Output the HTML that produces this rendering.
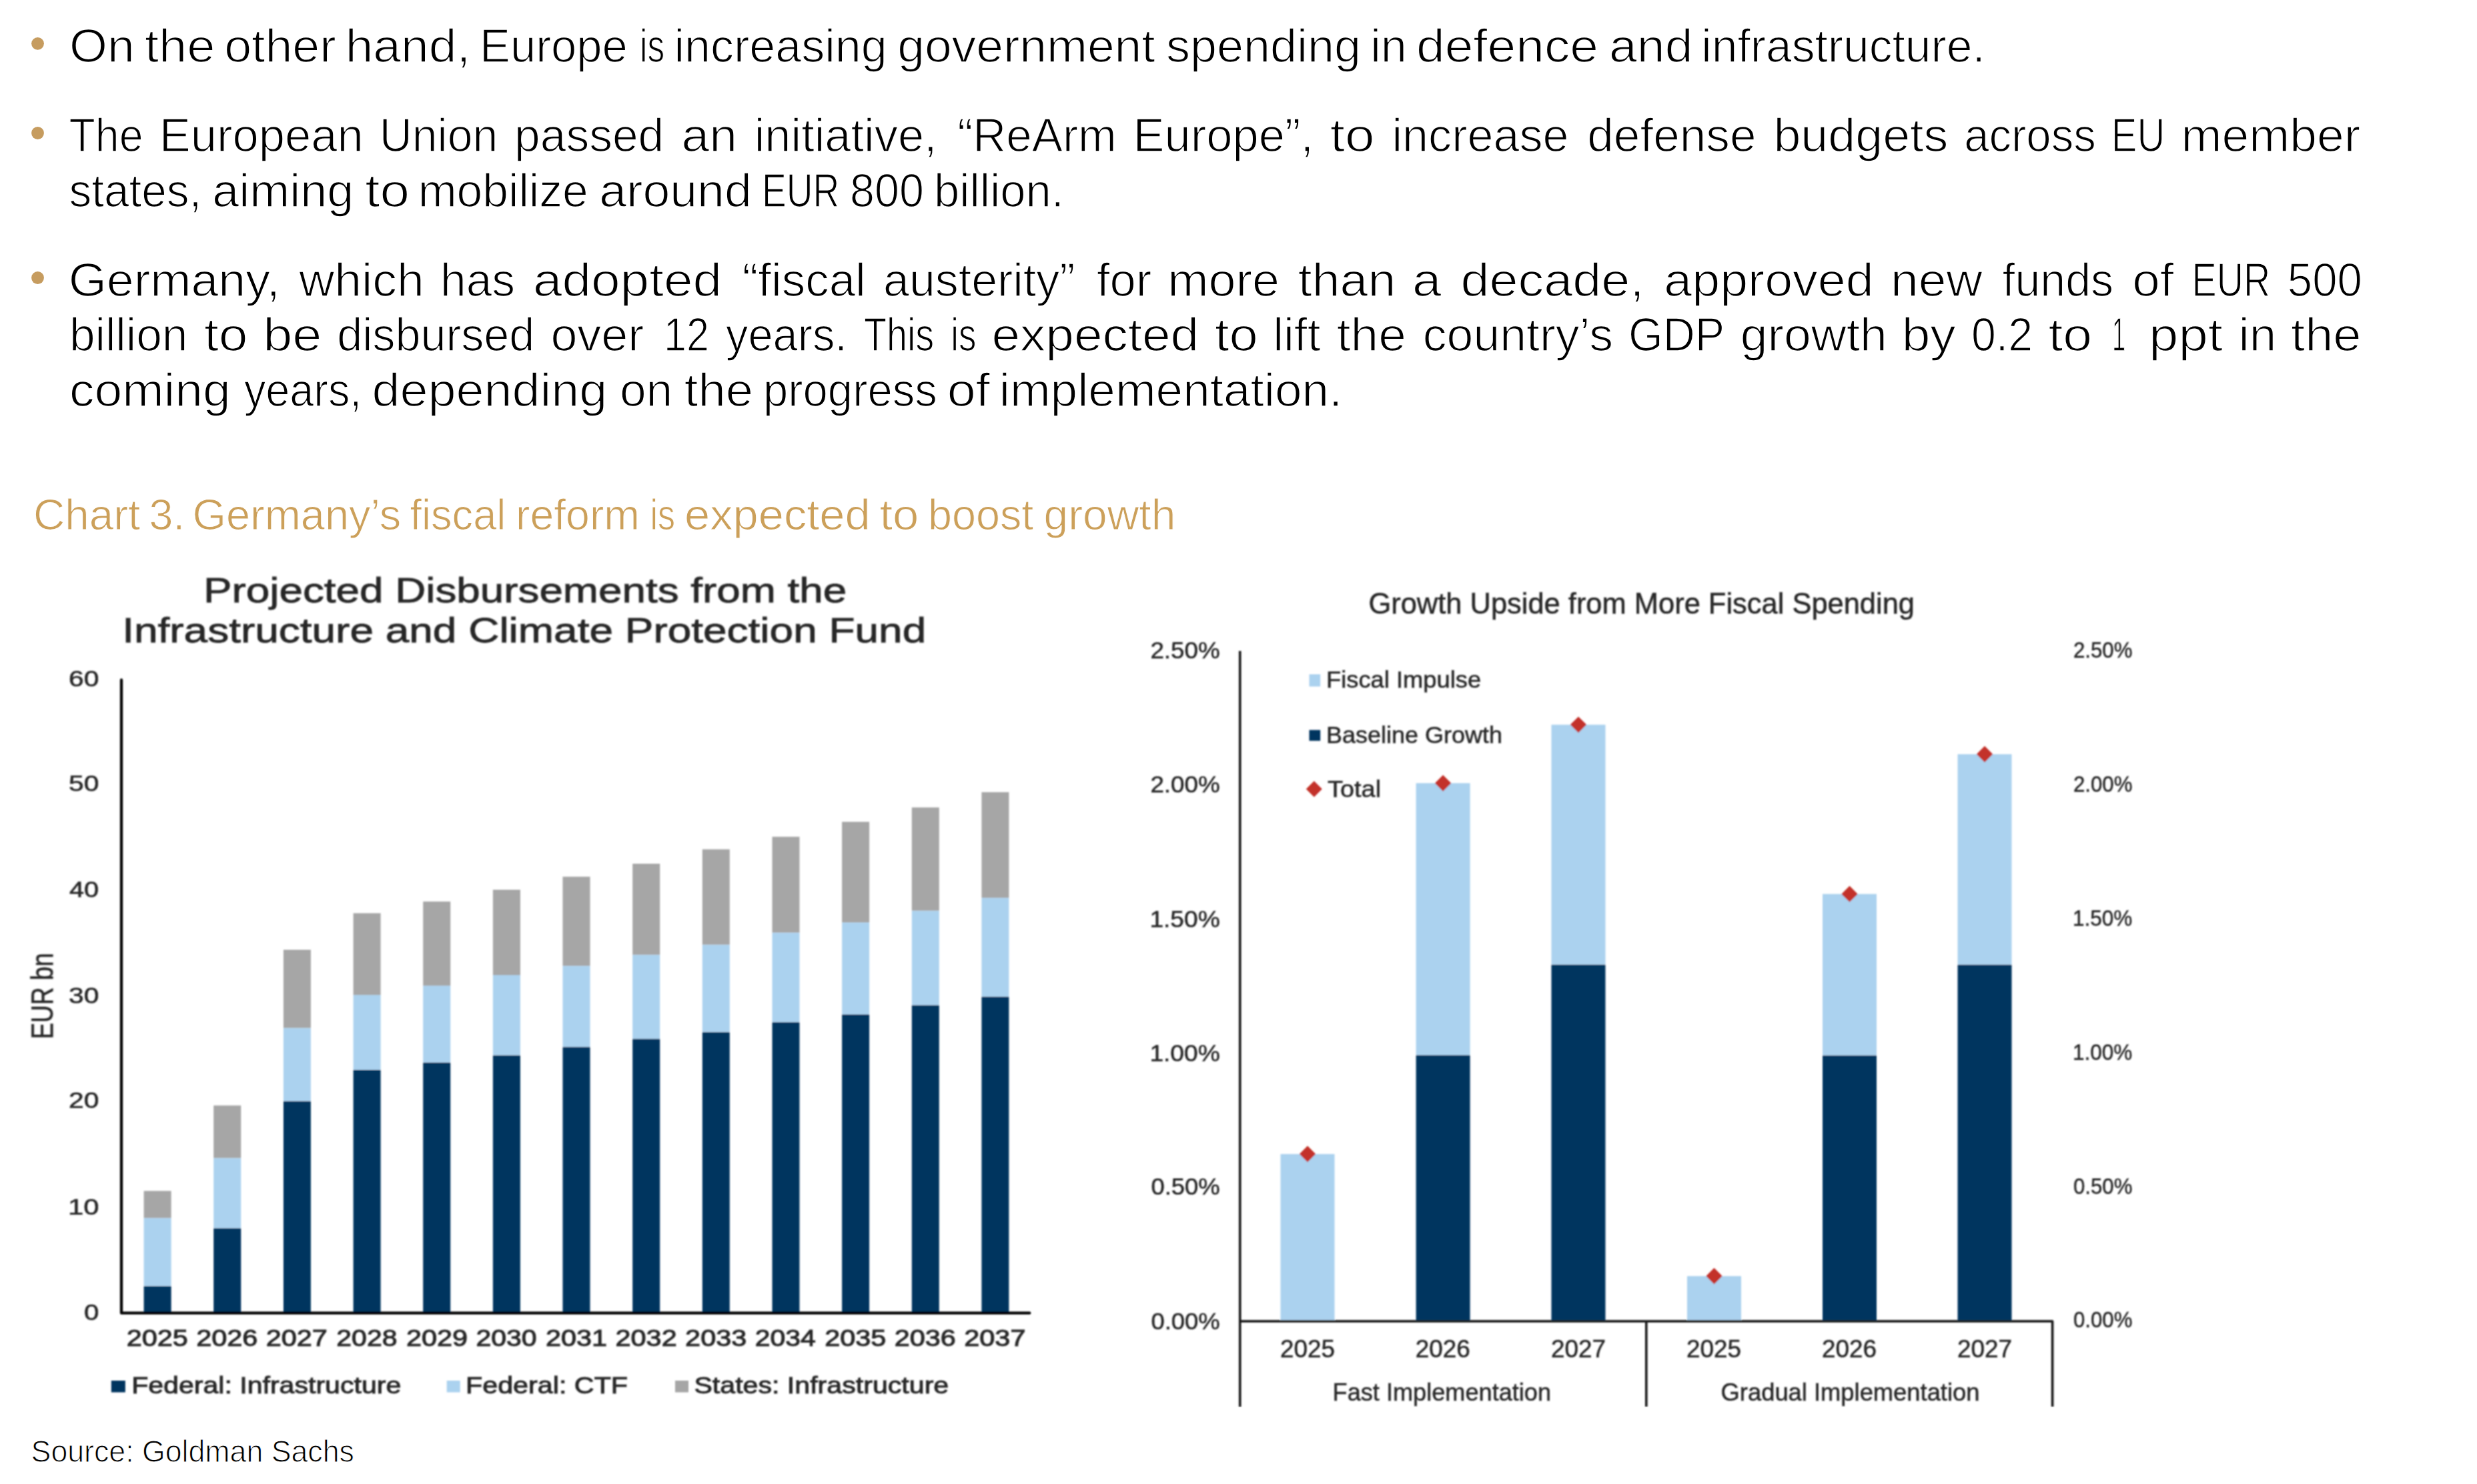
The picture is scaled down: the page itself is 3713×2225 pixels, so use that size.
<!DOCTYPE html>
<html><head><meta charset="utf-8"><title>Chart 3</title>
<style>html,body{margin:0;padding:0;background:#fff;} svg{display:block;} text{font-family:"Liberation Sans", sans-serif;}</style>
</head><body>
<svg width="3713" height="2225" viewBox="0 0 3713 2225">
<rect width="3713" height="2225" fill="#fff"/>
<circle cx="56.5" cy="65.3" r="9.4" fill="#C69C5F"/>
<circle cx="56.5" cy="199.5" r="9.4" fill="#C69C5F"/>
<circle cx="56.5" cy="416.5" r="9.4" fill="#C69C5F"/>
<text x="104.00" y="92.8" font-size="70.6" fill="#000" stroke="#fff" stroke-width="1.5" textLength="97.58" lengthAdjust="spacingAndGlyphs">On</text>
<text x="216.90" y="92.8" font-size="70.6" fill="#000" stroke="#fff" stroke-width="1.5" textLength="105.44" lengthAdjust="spacingAndGlyphs">the</text>
<text x="336.20" y="92.8" font-size="70.6" fill="#000" stroke="#fff" stroke-width="1.5" textLength="167.48" lengthAdjust="spacingAndGlyphs">other</text>
<text x="517.70" y="92.8" font-size="70.6" fill="#000" stroke="#fff" stroke-width="1.5" textLength="187.54" lengthAdjust="spacingAndGlyphs">hand,</text>
<text x="719.00" y="92.8" font-size="70.6" fill="#000" stroke="#fff" stroke-width="1.5" textLength="221.82" lengthAdjust="spacingAndGlyphs">Europe</text>
<text x="959.00" y="92.8" font-size="70.6" fill="#000" stroke="#fff" stroke-width="1.5" textLength="37.10" lengthAdjust="spacingAndGlyphs">is</text>
<text x="1010.40" y="92.8" font-size="70.6" fill="#000" stroke="#fff" stroke-width="1.5" textLength="319.41" lengthAdjust="spacingAndGlyphs">increasing</text>
<text x="1345.20" y="92.8" font-size="70.6" fill="#000" stroke="#fff" stroke-width="1.5" textLength="386.46" lengthAdjust="spacingAndGlyphs">government</text>
<text x="1748.10" y="92.8" font-size="70.6" fill="#000" stroke="#fff" stroke-width="1.5" textLength="291.85" lengthAdjust="spacingAndGlyphs">spending</text>
<text x="2054.20" y="92.8" font-size="70.6" fill="#000" stroke="#fff" stroke-width="1.5" textLength="54.62" lengthAdjust="spacingAndGlyphs">in</text>
<text x="2123.00" y="92.8" font-size="70.6" fill="#000" stroke="#fff" stroke-width="1.5" textLength="272.94" lengthAdjust="spacingAndGlyphs">defence</text>
<text x="2412.10" y="92.8" font-size="70.6" fill="#000" stroke="#fff" stroke-width="1.5" textLength="125.35" lengthAdjust="spacingAndGlyphs">and</text>
<text x="2550.20" y="92.8" font-size="70.6" fill="#000" stroke="#fff" stroke-width="1.5" textLength="425.64" lengthAdjust="spacingAndGlyphs">infrastructure.</text>
<text x="103.50" y="226.9" font-size="70.6" fill="#000" stroke="#fff" stroke-width="1.5" textLength="110.96" lengthAdjust="spacingAndGlyphs">The</text>
<text x="238.70" y="226.9" font-size="70.6" fill="#000" stroke="#fff" stroke-width="1.5" textLength="306.01" lengthAdjust="spacingAndGlyphs">European</text>
<text x="568.80" y="226.9" font-size="70.6" fill="#000" stroke="#fff" stroke-width="1.5" textLength="177.43" lengthAdjust="spacingAndGlyphs">Union</text>
<text x="771.10" y="226.9" font-size="70.6" fill="#000" stroke="#fff" stroke-width="1.5" textLength="224.08" lengthAdjust="spacingAndGlyphs">passed</text>
<text x="1021.60" y="226.9" font-size="70.6" fill="#000" stroke="#fff" stroke-width="1.5" textLength="83.55" lengthAdjust="spacingAndGlyphs">an</text>
<text x="1130.70" y="226.9" font-size="70.6" fill="#000" stroke="#fff" stroke-width="1.5" textLength="273.95" lengthAdjust="spacingAndGlyphs">initiative,</text>
<text x="1435.20" y="226.9" font-size="70.6" fill="#000" stroke="#fff" stroke-width="1.5" textLength="238.47" lengthAdjust="spacingAndGlyphs">“ReArm</text>
<text x="1698.50" y="226.9" font-size="70.6" fill="#000" stroke="#fff" stroke-width="1.5" textLength="270.60" lengthAdjust="spacingAndGlyphs">Europe”,</text>
<text x="1993.80" y="226.9" font-size="70.6" fill="#000" stroke="#fff" stroke-width="1.5" textLength="66.71" lengthAdjust="spacingAndGlyphs">to</text>
<text x="2086.50" y="226.9" font-size="70.6" fill="#000" stroke="#fff" stroke-width="1.5" textLength="265.09" lengthAdjust="spacingAndGlyphs">increase</text>
<text x="2379.30" y="226.9" font-size="70.6" fill="#000" stroke="#fff" stroke-width="1.5" textLength="253.21" lengthAdjust="spacingAndGlyphs">defense</text>
<text x="2658.40" y="226.9" font-size="70.6" fill="#000" stroke="#fff" stroke-width="1.5" textLength="261.99" lengthAdjust="spacingAndGlyphs">budgets</text>
<text x="2944.20" y="226.9" font-size="70.6" fill="#000" stroke="#fff" stroke-width="1.5" textLength="197.52" lengthAdjust="spacingAndGlyphs">across</text>
<text x="3164.80" y="226.9" font-size="70.6" fill="#000" stroke="#fff" stroke-width="1.5" textLength="80.45" lengthAdjust="spacingAndGlyphs">EU</text>
<text x="3269.50" y="226.9" font-size="70.6" fill="#000" stroke="#fff" stroke-width="1.5" textLength="268.61" lengthAdjust="spacingAndGlyphs">member</text>
<text x="103.50" y="309.9" font-size="70.6" fill="#000" stroke="#fff" stroke-width="1.5" textLength="198.72" lengthAdjust="spacingAndGlyphs">states,</text>
<text x="318.30" y="309.9" font-size="70.6" fill="#000" stroke="#fff" stroke-width="1.5" textLength="211.96" lengthAdjust="spacingAndGlyphs">aiming</text>
<text x="547.20" y="309.9" font-size="70.6" fill="#000" stroke="#fff" stroke-width="1.5" textLength="66.71" lengthAdjust="spacingAndGlyphs">to</text>
<text x="626.70" y="309.9" font-size="70.6" fill="#000" stroke="#fff" stroke-width="1.5" textLength="255.04" lengthAdjust="spacingAndGlyphs">mobilize</text>
<text x="898.20" y="309.9" font-size="70.6" fill="#000" stroke="#fff" stroke-width="1.5" textLength="228.56" lengthAdjust="spacingAndGlyphs">around</text>
<text x="1141.90" y="309.9" font-size="70.6" fill="#000" stroke="#fff" stroke-width="1.5" textLength="116.45" lengthAdjust="spacingAndGlyphs">EUR</text>
<text x="1274.10" y="309.9" font-size="70.6" fill="#000" stroke="#fff" stroke-width="1.5" textLength="110.81" lengthAdjust="spacingAndGlyphs">800</text>
<text x="1399.90" y="309.9" font-size="70.6" fill="#000" stroke="#fff" stroke-width="1.5" textLength="194.92" lengthAdjust="spacingAndGlyphs">billion.</text>
<text x="102.70" y="443.7" font-size="70.6" fill="#000" stroke="#fff" stroke-width="1.5" textLength="317.21" lengthAdjust="spacingAndGlyphs">Germany,</text>
<text x="448.20" y="443.7" font-size="70.6" fill="#000" stroke="#fff" stroke-width="1.5" textLength="187.53" lengthAdjust="spacingAndGlyphs">which</text>
<text x="660.00" y="443.7" font-size="70.6" fill="#000" stroke="#fff" stroke-width="1.5" textLength="112.03" lengthAdjust="spacingAndGlyphs">has</text>
<text x="798.90" y="443.7" font-size="70.6" fill="#000" stroke="#fff" stroke-width="1.5" textLength="283.14" lengthAdjust="spacingAndGlyphs">adopted</text>
<text x="1112.70" y="443.7" font-size="70.6" fill="#000" stroke="#fff" stroke-width="1.5" textLength="185.18" lengthAdjust="spacingAndGlyphs">“fiscal</text>
<text x="1324.00" y="443.7" font-size="70.6" fill="#000" stroke="#fff" stroke-width="1.5" textLength="287.52" lengthAdjust="spacingAndGlyphs">austerity”</text>
<text x="1644.00" y="443.7" font-size="70.6" fill="#000" stroke="#fff" stroke-width="1.5" textLength="82.19" lengthAdjust="spacingAndGlyphs">for</text>
<text x="1750.20" y="443.7" font-size="70.6" fill="#000" stroke="#fff" stroke-width="1.5" textLength="167.80" lengthAdjust="spacingAndGlyphs">more</text>
<text x="1945.80" y="443.7" font-size="70.6" fill="#000" stroke="#fff" stroke-width="1.5" textLength="146.43" lengthAdjust="spacingAndGlyphs">than</text>
<text x="2117.10" y="443.7" font-size="70.6" fill="#000" stroke="#fff" stroke-width="1.5" textLength="43.61" lengthAdjust="spacingAndGlyphs">a</text>
<text x="2189.40" y="443.7" font-size="70.6" fill="#000" stroke="#fff" stroke-width="1.5" textLength="275.38" lengthAdjust="spacingAndGlyphs">decade,</text>
<text x="2494.30" y="443.7" font-size="70.6" fill="#000" stroke="#fff" stroke-width="1.5" textLength="314.35" lengthAdjust="spacingAndGlyphs">approved</text>
<text x="2834.10" y="443.7" font-size="70.6" fill="#000" stroke="#fff" stroke-width="1.5" textLength="137.50" lengthAdjust="spacingAndGlyphs">new</text>
<text x="3001.60" y="443.7" font-size="70.6" fill="#000" stroke="#fff" stroke-width="1.5" textLength="166.44" lengthAdjust="spacingAndGlyphs">funds</text>
<text x="3196.30" y="443.7" font-size="70.6" fill="#000" stroke="#fff" stroke-width="1.5" textLength="62.14" lengthAdjust="spacingAndGlyphs">of</text>
<text x="3285.50" y="443.7" font-size="70.6" fill="#000" stroke="#fff" stroke-width="1.5" textLength="117.63" lengthAdjust="spacingAndGlyphs">EUR</text>
<text x="3428.80" y="443.7" font-size="70.6" fill="#000" stroke="#fff" stroke-width="1.5" textLength="112.02" lengthAdjust="spacingAndGlyphs">500</text>
<text x="103.90" y="525.8" font-size="70.6" fill="#000" stroke="#fff" stroke-width="1.5" textLength="177.54" lengthAdjust="spacingAndGlyphs">billion</text>
<text x="305.90" y="525.8" font-size="70.6" fill="#000" stroke="#fff" stroke-width="1.5" textLength="65.45" lengthAdjust="spacingAndGlyphs">to</text>
<text x="394.20" y="525.8" font-size="70.6" fill="#000" stroke="#fff" stroke-width="1.5" textLength="88.08" lengthAdjust="spacingAndGlyphs">be</text>
<text x="505.20" y="525.8" font-size="70.6" fill="#000" stroke="#fff" stroke-width="1.5" textLength="296.16" lengthAdjust="spacingAndGlyphs">disbursed</text>
<text x="825.40" y="525.8" font-size="70.6" fill="#000" stroke="#fff" stroke-width="1.5" textLength="139.82" lengthAdjust="spacingAndGlyphs">over</text>
<text x="995.00" y="525.8" font-size="70.6" fill="#000" stroke="#fff" stroke-width="1.5" textLength="67.86" lengthAdjust="spacingAndGlyphs">12</text>
<text x="1088.00" y="525.8" font-size="70.6" fill="#000" stroke="#fff" stroke-width="1.5" textLength="181.92" lengthAdjust="spacingAndGlyphs">years.</text>
<text x="1294.90" y="525.8" font-size="70.6" fill="#000" stroke="#fff" stroke-width="1.5" textLength="105.34" lengthAdjust="spacingAndGlyphs">This</text>
<text x="1425.20" y="525.8" font-size="70.6" fill="#000" stroke="#fff" stroke-width="1.5" textLength="38.10" lengthAdjust="spacingAndGlyphs">is</text>
<text x="1486.50" y="525.8" font-size="70.6" fill="#000" stroke="#fff" stroke-width="1.5" textLength="310.66" lengthAdjust="spacingAndGlyphs">expected</text>
<text x="1821.00" y="525.8" font-size="70.6" fill="#000" stroke="#fff" stroke-width="1.5" textLength="64.80" lengthAdjust="spacingAndGlyphs">to</text>
<text x="1908.20" y="525.8" font-size="70.6" fill="#000" stroke="#fff" stroke-width="1.5" textLength="71.29" lengthAdjust="spacingAndGlyphs">lift</text>
<text x="2003.70" y="525.8" font-size="70.6" fill="#000" stroke="#fff" stroke-width="1.5" textLength="104.12" lengthAdjust="spacingAndGlyphs">the</text>
<text x="2132.80" y="525.8" font-size="70.6" fill="#000" stroke="#fff" stroke-width="1.5" textLength="285.16" lengthAdjust="spacingAndGlyphs">country’s</text>
<text x="2441.00" y="525.8" font-size="70.6" fill="#000" stroke="#fff" stroke-width="1.5" textLength="144.19" lengthAdjust="spacingAndGlyphs">GDP</text>
<text x="2608.80" y="525.8" font-size="70.6" fill="#000" stroke="#fff" stroke-width="1.5" textLength="219.95" lengthAdjust="spacingAndGlyphs">growth</text>
<text x="2850.70" y="525.8" font-size="70.6" fill="#000" stroke="#fff" stroke-width="1.5" textLength="81.01" lengthAdjust="spacingAndGlyphs">by</text>
<text x="2955.00" y="525.8" font-size="70.6" fill="#000" stroke="#fff" stroke-width="1.5" textLength="92.11" lengthAdjust="spacingAndGlyphs">0.2</text>
<text x="3070.50" y="525.8" font-size="70.6" fill="#000" stroke="#fff" stroke-width="1.5" textLength="65.63" lengthAdjust="spacingAndGlyphs">to</text>
<text x="3166.20" y="525.8" font-size="70.6" fill="#000" stroke="#fff" stroke-width="1.5" textLength="19.80" lengthAdjust="spacingAndGlyphs">1</text>
<text x="3221.10" y="525.8" font-size="70.6" fill="#000" stroke="#fff" stroke-width="1.5" textLength="110.87" lengthAdjust="spacingAndGlyphs">ppt</text>
<text x="3355.60" y="525.8" font-size="70.6" fill="#000" stroke="#fff" stroke-width="1.5" textLength="56.72" lengthAdjust="spacingAndGlyphs">in</text>
<text x="3434.10" y="525.8" font-size="70.6" fill="#000" stroke="#fff" stroke-width="1.5" textLength="105.44" lengthAdjust="spacingAndGlyphs">the</text>
<text x="104.00" y="608.8" font-size="70.6" fill="#000" stroke="#fff" stroke-width="1.5" textLength="241.58" lengthAdjust="spacingAndGlyphs">coming</text>
<text x="365.90" y="608.8" font-size="70.6" fill="#000" stroke="#fff" stroke-width="1.5" textLength="176.41" lengthAdjust="spacingAndGlyphs">years,</text>
<text x="557.50" y="608.8" font-size="70.6" fill="#000" stroke="#fff" stroke-width="1.5" textLength="352.84" lengthAdjust="spacingAndGlyphs">depending</text>
<text x="928.90" y="608.8" font-size="70.6" fill="#000" stroke="#fff" stroke-width="1.5" textLength="79.34" lengthAdjust="spacingAndGlyphs">on</text>
<text x="1025.80" y="608.8" font-size="70.6" fill="#000" stroke="#fff" stroke-width="1.5" textLength="103.18" lengthAdjust="spacingAndGlyphs">the</text>
<text x="1144.00" y="608.8" font-size="70.6" fill="#000" stroke="#fff" stroke-width="1.5" textLength="260.75" lengthAdjust="spacingAndGlyphs">progress</text>
<text x="1419.70" y="608.8" font-size="70.6" fill="#000" stroke="#fff" stroke-width="1.5" textLength="64.32" lengthAdjust="spacingAndGlyphs">of</text>
<text x="1497.70" y="608.8" font-size="70.6" fill="#000" stroke="#fff" stroke-width="1.5" textLength="514.60" lengthAdjust="spacingAndGlyphs">implementation.</text>
<text x="50.00" y="794.2" font-size="64.9" fill="#CCA05A" stroke="#fff" stroke-width="1.0" textLength="160.14" lengthAdjust="spacingAndGlyphs">Chart</text>
<text x="223.50" y="794.2" font-size="64.9" fill="#CCA05A" stroke="#fff" stroke-width="1.0" textLength="53.79" lengthAdjust="spacingAndGlyphs">3.</text>
<text x="288.50" y="794.2" font-size="64.9" fill="#CCA05A" stroke="#fff" stroke-width="1.0" textLength="312.66" lengthAdjust="spacingAndGlyphs">Germany’s</text>
<text x="614.50" y="794.2" font-size="64.9" fill="#CCA05A" stroke="#fff" stroke-width="1.0" textLength="143.75" lengthAdjust="spacingAndGlyphs">fiscal</text>
<text x="773.00" y="794.2" font-size="64.9" fill="#CCA05A" stroke="#fff" stroke-width="1.0" textLength="185.96" lengthAdjust="spacingAndGlyphs">reform</text>
<text x="974.50" y="794.2" font-size="64.9" fill="#CCA05A" stroke="#fff" stroke-width="1.0" textLength="37.58" lengthAdjust="spacingAndGlyphs">is</text>
<text x="1026.00" y="794.2" font-size="64.9" fill="#CCA05A" stroke="#fff" stroke-width="1.0" textLength="278.73" lengthAdjust="spacingAndGlyphs">expected</text>
<text x="1318.50" y="794.2" font-size="64.9" fill="#CCA05A" stroke="#fff" stroke-width="1.0" textLength="58.89" lengthAdjust="spacingAndGlyphs">to</text>
<text x="1391.00" y="794.2" font-size="64.9" fill="#CCA05A" stroke="#fff" stroke-width="1.0" textLength="158.21" lengthAdjust="spacingAndGlyphs">boost</text>
<text x="1564.50" y="794.2" font-size="64.9" fill="#CCA05A" stroke="#fff" stroke-width="1.0" textLength="197.83" lengthAdjust="spacingAndGlyphs">growth</text>
<text x="46.60" y="2191.6" font-size="46.7" fill="#000" stroke="#fff" stroke-width="1.1" textLength="484.25" lengthAdjust="spacingAndGlyphs">Source: Goldman Sachs</text>
<defs><filter id="soft" x="0" y="0" width="1" height="1"><feGaussianBlur stdDeviation="1.0"/></filter></defs>
<g filter="url(#soft)"><rect x="215.6" y="1785.6" width="41" height="40.7" fill="#A6A6A6"/>
<rect x="215.6" y="1826.3" width="41" height="102.1" fill="#ABD2EF"/>
<rect x="215.6" y="1928.4" width="41" height="39.6" fill="#00355F"/>
<rect x="320.2" y="1657.5" width="41" height="78.9" fill="#A6A6A6"/>
<rect x="320.2" y="1736.4" width="41" height="105.2" fill="#ABD2EF"/>
<rect x="320.2" y="1841.6" width="41" height="126.4" fill="#00355F"/>
<rect x="424.9" y="1424" width="41" height="117.4" fill="#A6A6A6"/>
<rect x="424.9" y="1541.4" width="41" height="109.6" fill="#ABD2EF"/>
<rect x="424.9" y="1651" width="41" height="317.0" fill="#00355F"/>
<rect x="529.6" y="1369.2" width="41" height="122.7" fill="#A6A6A6"/>
<rect x="529.6" y="1491.9" width="41" height="112.2" fill="#ABD2EF"/>
<rect x="529.6" y="1604.1" width="41" height="363.9" fill="#00355F"/>
<rect x="634.2" y="1351.7" width="41" height="126.2" fill="#A6A6A6"/>
<rect x="634.2" y="1477.9" width="41" height="115.2" fill="#ABD2EF"/>
<rect x="634.2" y="1593.1" width="41" height="374.9" fill="#00355F"/>
<rect x="738.9" y="1334" width="41" height="128.0" fill="#A6A6A6"/>
<rect x="738.9" y="1462" width="41" height="120.3" fill="#ABD2EF"/>
<rect x="738.9" y="1582.3" width="41" height="385.7" fill="#00355F"/>
<rect x="843.5" y="1314.5" width="41" height="133.7" fill="#A6A6A6"/>
<rect x="843.5" y="1448.2" width="41" height="121.6" fill="#ABD2EF"/>
<rect x="843.5" y="1569.8" width="41" height="398.2" fill="#00355F"/>
<rect x="948.2" y="1295" width="41" height="136.7" fill="#A6A6A6"/>
<rect x="948.2" y="1431.7" width="41" height="126.0" fill="#ABD2EF"/>
<rect x="948.2" y="1557.7" width="41" height="410.3" fill="#00355F"/>
<rect x="1052.8" y="1273.4" width="41" height="143.2" fill="#A6A6A6"/>
<rect x="1052.8" y="1416.6" width="41" height="131.0" fill="#ABD2EF"/>
<rect x="1052.8" y="1547.6" width="41" height="420.4" fill="#00355F"/>
<rect x="1157.5" y="1254.6" width="41" height="143.9" fill="#A6A6A6"/>
<rect x="1157.5" y="1398.5" width="41" height="134.2" fill="#ABD2EF"/>
<rect x="1157.5" y="1532.7" width="41" height="435.3" fill="#00355F"/>
<rect x="1262.1" y="1232.2" width="41" height="151.0" fill="#A6A6A6"/>
<rect x="1262.1" y="1383.2" width="41" height="137.8" fill="#ABD2EF"/>
<rect x="1262.1" y="1521" width="41" height="447.0" fill="#00355F"/>
<rect x="1366.8" y="1210.6" width="41" height="155.0" fill="#A6A6A6"/>
<rect x="1366.8" y="1365.6" width="41" height="141.5" fill="#ABD2EF"/>
<rect x="1366.8" y="1507.1" width="41" height="460.9" fill="#00355F"/>
<rect x="1471.4" y="1187.7" width="41" height="158.5" fill="#A6A6A6"/>
<rect x="1471.4" y="1346.2" width="41" height="148.3" fill="#ABD2EF"/>
<rect x="1471.4" y="1494.5" width="41" height="473.5" fill="#00355F"/>
<path d="M182 1019.5V1968.7H1543.3" fill="none" stroke="#000" stroke-width="4.3" stroke-linecap="round" stroke-linejoin="round"/>
<rect x="166.8" y="2070" width="21" height="17.5" fill="#00355F"/>
<rect x="669.7" y="2070" width="20" height="17.5" fill="#ABD2EF"/>
<rect x="1012" y="2070" width="20" height="17.5" fill="#A6A6A6"/>
<rect x="1919.5" y="1730.3" width="81" height="249.2" fill="#ABD2EF"/>
<rect x="2122.6" y="1174.2" width="81" height="407.8" fill="#ABD2EF"/>
<rect x="2122.6" y="1582" width="81" height="397.5" fill="#00355F"/>
<rect x="2325.5" y="1086.6" width="81" height="359.8" fill="#ABD2EF"/>
<rect x="2325.5" y="1446.4" width="81" height="533.1" fill="#00355F"/>
<rect x="2529" y="1913.3" width="81" height="66.2" fill="#ABD2EF"/>
<rect x="2732" y="1340.4" width="81" height="242.1" fill="#ABD2EF"/>
<rect x="2732" y="1582.5" width="81" height="397.0" fill="#00355F"/>
<rect x="2934.5" y="1130.8" width="81" height="315.7" fill="#ABD2EF"/>
<rect x="2934.5" y="1446.5" width="81" height="533.0" fill="#00355F"/>
<path d="M1960.0 1718.1L1972.2 1730.3L1960.0 1742.5L1947.8 1730.3Z" fill="#C3302C"/>
<path d="M2163.1 1162.0L2175.2999999999997 1174.2L2163.1 1186.4L2150.9 1174.2Z" fill="#C3302C"/>
<path d="M2366.0 1074.3999999999999L2378.2 1086.6L2366.0 1098.8L2353.8 1086.6Z" fill="#C3302C"/>
<path d="M2569.5 1901.1L2581.7 1913.3L2569.5 1925.5L2557.3 1913.3Z" fill="#C3302C"/>
<path d="M2772.5 1328.2L2784.7 1340.4L2772.5 1352.6000000000001L2760.3 1340.4Z" fill="#C3302C"/>
<path d="M2975.0 1118.6L2987.2 1130.8L2975.0 1143.0L2962.8 1130.8Z" fill="#C3302C"/>
<line x1="1858.7" y1="975.9" x2="1858.7" y2="2109.3" stroke="#141414" stroke-width="3.6"/>
<path d="M1858.7 1981H3076.6V2109" fill="none" stroke="#141414" stroke-width="3.6" stroke-linejoin="round"/>
<line x1="2467.8" y1="1981" x2="2467.8" y2="2109" stroke="#141414" stroke-width="3.6"/>
<rect x="1962.5" y="1011" width="16.7" height="18.3" fill="#ABD2EF"/>
<rect x="1962.5" y="1094.5" width="16.7" height="16.2" fill="#00355F"/>
<path d="M1969.8 1171L1981.8 1183L1969.8 1195L1957.8 1183Z" fill="#C3302C"/>
<text x="305.00" y="902.5" font-size="51.9" fill="#262626" stroke="#262626" stroke-width="0.8" textLength="964.25" lengthAdjust="spacingAndGlyphs">Projected Disbursements from the</text>
<text x="183.20" y="963.4" font-size="51.9" fill="#262626" stroke="#262626" stroke-width="0.8" textLength="1205.09" lengthAdjust="spacingAndGlyphs">Infrastructure and Climate Protection Fund</text>
<text x="103.00" y="1028.9" font-size="34" fill="#262626" stroke="#262626" stroke-width="0.6" textLength="45.28" lengthAdjust="spacingAndGlyphs">60</text>
<text x="103.00" y="1186.1000000000001" font-size="34" fill="#262626" stroke="#262626" stroke-width="0.6" textLength="45.28" lengthAdjust="spacingAndGlyphs">50</text>
<text x="104.00" y="1344.7" font-size="34" fill="#262626" stroke="#262626" stroke-width="0.6" textLength="44.18" lengthAdjust="spacingAndGlyphs">40</text>
<text x="103.00" y="1503.8" font-size="34" fill="#262626" stroke="#262626" stroke-width="0.6" textLength="45.28" lengthAdjust="spacingAndGlyphs">30</text>
<text x="103.00" y="1661.1000000000001" font-size="34" fill="#262626" stroke="#262626" stroke-width="0.6" textLength="45.28" lengthAdjust="spacingAndGlyphs">20</text>
<text x="102.00" y="1821.0" font-size="34" fill="#262626" stroke="#262626" stroke-width="0.6" textLength="46.44" lengthAdjust="spacingAndGlyphs">10</text>
<text x="126.00" y="1978.8" font-size="34" fill="#262626" stroke="#262626" stroke-width="0.6" textLength="22.32" lengthAdjust="spacingAndGlyphs">0</text>
<text x="189.70" y="2018.2" font-size="34.5" fill="#262626" stroke="#262626" stroke-width="1.0" textLength="92.10" lengthAdjust="spacingAndGlyphs">2025</text>
<text x="294.25" y="2018.2" font-size="34.5" fill="#262626" stroke="#262626" stroke-width="1.0" textLength="92.13" lengthAdjust="spacingAndGlyphs">2026</text>
<text x="398.80" y="2018.2" font-size="34.5" fill="#262626" stroke="#262626" stroke-width="1.0" textLength="92.09" lengthAdjust="spacingAndGlyphs">2027</text>
<text x="504.35" y="2018.2" font-size="34.5" fill="#262626" stroke="#262626" stroke-width="1.0" textLength="91.08" lengthAdjust="spacingAndGlyphs">2028</text>
<text x="608.90" y="2018.2" font-size="34.5" fill="#262626" stroke="#262626" stroke-width="1.0" textLength="92.08" lengthAdjust="spacingAndGlyphs">2029</text>
<text x="713.45" y="2018.2" font-size="34.5" fill="#262626" stroke="#262626" stroke-width="1.0" textLength="91.16" lengthAdjust="spacingAndGlyphs">2030</text>
<text x="818.00" y="2018.2" font-size="34.5" fill="#262626" stroke="#262626" stroke-width="1.0" textLength="92.10" lengthAdjust="spacingAndGlyphs">2031</text>
<text x="922.55" y="2018.2" font-size="34.5" fill="#262626" stroke="#262626" stroke-width="1.0" textLength="92.13" lengthAdjust="spacingAndGlyphs">2032</text>
<text x="1027.10" y="2018.2" font-size="34.5" fill="#262626" stroke="#262626" stroke-width="1.0" textLength="92.14" lengthAdjust="spacingAndGlyphs">2033</text>
<text x="1131.65" y="2018.2" font-size="34.5" fill="#262626" stroke="#262626" stroke-width="1.0" textLength="91.08" lengthAdjust="spacingAndGlyphs">2034</text>
<text x="1236.20" y="2018.2" font-size="34.5" fill="#262626" stroke="#262626" stroke-width="1.0" textLength="92.13" lengthAdjust="spacingAndGlyphs">2035</text>
<text x="1340.75" y="2018.2" font-size="34.5" fill="#262626" stroke="#262626" stroke-width="1.0" textLength="92.14" lengthAdjust="spacingAndGlyphs">2036</text>
<text x="1445.30" y="2018.2" font-size="34.5" fill="#262626" stroke="#262626" stroke-width="1.0" textLength="92.14" lengthAdjust="spacingAndGlyphs">2037</text>
<text x="197.20" y="2089.3" font-size="34.5" fill="#262626" stroke="#262626" stroke-width="0.9" textLength="404.06" lengthAdjust="spacingAndGlyphs">Federal: Infrastructure</text>
<text x="698.00" y="2089.3" font-size="34.5" fill="#262626" stroke="#262626" stroke-width="0.9" textLength="243.08" lengthAdjust="spacingAndGlyphs">Federal: CTF</text>
<text x="1040.40" y="2089.3" font-size="34.5" fill="#262626" stroke="#262626" stroke-width="0.9" textLength="381.84" lengthAdjust="spacingAndGlyphs">States: Infrastructure</text>
<text x="2051.40" y="920.2" font-size="43.6" fill="#262626" stroke="#262626" stroke-width="0.5" textLength="818.63" lengthAdjust="spacingAndGlyphs">Growth Upside from More Fiscal Spending</text>
<text x="1724.40" y="987.3" font-size="35.8" fill="#262626" stroke="#262626" stroke-width="0.5" textLength="104.32" lengthAdjust="spacingAndGlyphs">2.50%</text>
<text x="3108.00" y="985.7" font-size="34" fill="#262626" stroke="#262626" stroke-width="0.5" textLength="88.38" lengthAdjust="spacingAndGlyphs">2.50%</text>
<text x="1724.40" y="1188.3" font-size="35.8" fill="#262626" stroke="#262626" stroke-width="0.5" textLength="104.32" lengthAdjust="spacingAndGlyphs">2.00%</text>
<text x="3108.00" y="1186.7" font-size="34" fill="#262626" stroke="#262626" stroke-width="0.5" textLength="88.38" lengthAdjust="spacingAndGlyphs">2.00%</text>
<text x="1723.40" y="1389.8" font-size="35.8" fill="#262626" stroke="#262626" stroke-width="0.5" textLength="105.34" lengthAdjust="spacingAndGlyphs">1.50%</text>
<text x="3107.00" y="1388.2" font-size="34" fill="#262626" stroke="#262626" stroke-width="0.5" textLength="89.37" lengthAdjust="spacingAndGlyphs">1.50%</text>
<text x="1723.40" y="1590.8" font-size="35.8" fill="#262626" stroke="#262626" stroke-width="0.5" textLength="105.34" lengthAdjust="spacingAndGlyphs">1.00%</text>
<text x="3107.00" y="1589.2" font-size="34" fill="#262626" stroke="#262626" stroke-width="0.5" textLength="89.37" lengthAdjust="spacingAndGlyphs">1.00%</text>
<text x="1725.40" y="1791.3" font-size="35.8" fill="#262626" stroke="#262626" stroke-width="0.5" textLength="103.29" lengthAdjust="spacingAndGlyphs">0.50%</text>
<text x="3108.00" y="1790.2" font-size="34" fill="#262626" stroke="#262626" stroke-width="0.5" textLength="88.35" lengthAdjust="spacingAndGlyphs">0.50%</text>
<text x="1725.40" y="1992.8" font-size="35.8" fill="#262626" stroke="#262626" stroke-width="0.5" textLength="103.29" lengthAdjust="spacingAndGlyphs">0.00%</text>
<text x="3108.00" y="1990.2" font-size="34" fill="#262626" stroke="#262626" stroke-width="0.5" textLength="88.35" lengthAdjust="spacingAndGlyphs">0.00%</text>
<text x="1919.00" y="2035" font-size="36.3" fill="#262626" stroke="#262626" stroke-width="0.5" textLength="82.09" lengthAdjust="spacingAndGlyphs">2025</text>
<text x="2121.80" y="2035" font-size="36.3" fill="#262626" stroke="#262626" stroke-width="0.5" textLength="82.10" lengthAdjust="spacingAndGlyphs">2026</text>
<text x="2325.00" y="2035" font-size="36.3" fill="#262626" stroke="#262626" stroke-width="0.5" textLength="82.14" lengthAdjust="spacingAndGlyphs">2027</text>
<text x="2528.00" y="2035" font-size="36.3" fill="#262626" stroke="#262626" stroke-width="0.5" textLength="82.09" lengthAdjust="spacingAndGlyphs">2025</text>
<text x="2731.00" y="2035" font-size="36.3" fill="#262626" stroke="#262626" stroke-width="0.5" textLength="82.09" lengthAdjust="spacingAndGlyphs">2026</text>
<text x="2934.00" y="2035" font-size="36.3" fill="#262626" stroke="#262626" stroke-width="0.5" textLength="82.14" lengthAdjust="spacingAndGlyphs">2027</text>
<text x="1997.60" y="2099.6" font-size="37" fill="#262626" stroke="#262626" stroke-width="0.5" textLength="327.47" lengthAdjust="spacingAndGlyphs">Fast Implementation</text>
<text x="2579.60" y="2099.6" font-size="37" fill="#262626" stroke="#262626" stroke-width="0.5" textLength="387.85" lengthAdjust="spacingAndGlyphs">Gradual Implementation</text>
<text x="1988.00" y="1030.8" font-size="34.5" fill="#262626" stroke="#262626" stroke-width="0.5" textLength="232.08" lengthAdjust="spacingAndGlyphs">Fiscal Impulse</text>
<text x="1988.00" y="1113.6" font-size="34.5" fill="#262626" stroke="#262626" stroke-width="0.5" textLength="264.10" lengthAdjust="spacingAndGlyphs">Baseline Growth</text>
<text x="1990.00" y="1194.6" font-size="34.5" fill="#262626" stroke="#262626" stroke-width="0.5" textLength="80.09" lengthAdjust="spacingAndGlyphs">Total</text>
<text transform="translate(79.3 1558.00) rotate(-90)" x="0" y="0" font-size="47" fill="#262626" stroke="#262626" stroke-width="0.6" textLength="129.20" lengthAdjust="spacingAndGlyphs">EUR bn</text></g>
</svg>
</body></html>
